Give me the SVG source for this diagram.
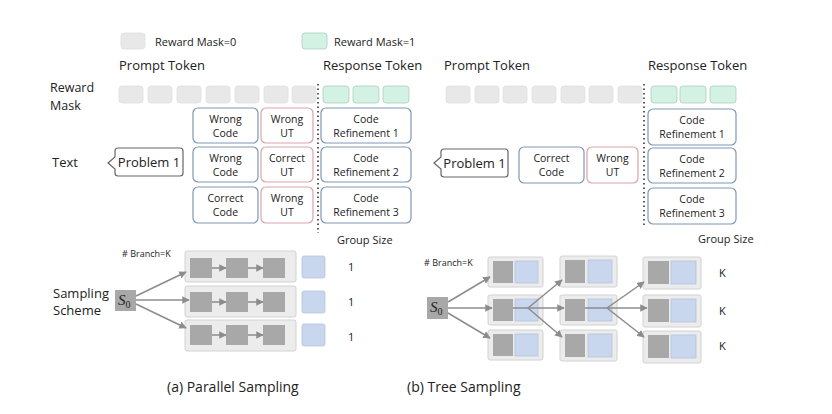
<svg xmlns="http://www.w3.org/2000/svg" width="832" height="414" viewBox="0 0 832 414">
<defs>
<style>
text{font-family:"Open Sans","DejaVu Sans",sans-serif;fill:#222}
.h{font-size:13px}
.s{font-size:10.5px}
.t{font-size:11px}
.c{text-anchor:middle}
.tok0{fill:#e8e8e8;stroke:#e0e0e0;stroke-width:0.8}
.tok1{fill:#d3f2e4;stroke:#a9cfbd;stroke-width:0.8}
.nb{fill:#fff;stroke:#7d98b6;stroke-width:1.2}
.nr{fill:#fff;stroke:#d9a3ab;stroke-width:1.2}
.pb{fill:#fff;stroke:#666;stroke-width:1.2}
.row{fill:#ececec;stroke:#d2d2d2;stroke-width:1}
.dk{fill:#a8a8a8}
.bl{fill:#c9d7ee;stroke:#b6c3da;stroke-width:0.8}
.ar{stroke:#8c8c8c;stroke-width:1.5;fill:none}
.dot{stroke:#333;stroke-width:1.6;stroke-dasharray:1.5 3;fill:none}
.s0{font-family:"Liberation Serif",serif;font-style:italic;font-size:15px}
</style>
<marker id="ah" viewBox="0 0 10 10" refX="9" refY="5" markerWidth="5" markerHeight="5" orient="auto">
<path d="M0,0 L10,5 L0,10 z" fill="#8c8c8c"/>
</marker>
</defs>
<rect width="832" height="414" fill="#fff"/>

<g id="legend">
<rect class="tok0" x="121" y="33" width="24" height="16" rx="3"/>
<text class="t" x="155" y="46">Reward Mask=0</text>
<rect class="tok1" x="302" y="33" width="25" height="16" rx="3"/>
<text class="t" x="334" y="46">Reward Mask=1</text>
</g>

<g id="labels">
<text class="h" x="119" y="70">Prompt Token</text>
<text class="h" x="323" y="70">Response Token</text>
<text class="h" x="444" y="70">Prompt Token</text>
<text class="h" x="648" y="70">Response Token</text>
<text x="50" y="92" style="font-size:12.5px">Reward</text>
<text x="50" y="110" style="font-size:12.5px">Mask</text>
<text class="h" x="52" y="167">Text</text>
<text class="h" x="53" y="298">Sampling</text>
<text class="h" x="53" y="315">Scheme</text>
<text class="t" x="337" y="244">Group Size</text>
<text class="t" x="698" y="243">Group Size</text>
<text x="122" y="257" style="font-size:9px"># Branch=K</text>
<text x="424" y="266" style="font-size:9px"># Branch=K</text>
<text class="h" x="167" y="392" style="font-size:14px">(a) Parallel Sampling</text>
<text class="h" x="407" y="392" style="font-size:14px">(b) Tree Sampling</text>
</g>

<g id="mask-left">
<rect class="tok0" x="119" y="86" width="24" height="17" rx="3"/>
<rect class="tok0" x="148" y="86" width="24" height="17" rx="3"/>
<rect class="tok0" x="177" y="86" width="24" height="17" rx="3"/>
<rect class="tok0" x="206" y="86" width="24" height="17" rx="3"/>
<rect class="tok0" x="235" y="86" width="24" height="17" rx="3"/>
<rect class="tok0" x="264" y="86" width="24" height="17" rx="3"/>
<rect class="tok0" x="292" y="86" width="24" height="17" rx="3"/>
<rect class="tok1" x="323" y="86" width="26" height="17" rx="3"/>
<rect class="tok1" x="353" y="86" width="26" height="17" rx="3"/>
<rect class="tok1" x="383" y="86" width="26" height="17" rx="3"/>
<path class="dot" d="M318,84 V233"/>
</g>

<g id="mask-right">
<rect class="tok0" x="446" y="86" width="24" height="17" rx="3"/>
<rect class="tok0" x="475" y="86" width="24" height="17" rx="3"/>
<rect class="tok0" x="503" y="86" width="24" height="17" rx="3"/>
<rect class="tok0" x="532" y="86" width="24" height="17" rx="3"/>
<rect class="tok0" x="561" y="86" width="24" height="17" rx="3"/>
<rect class="tok0" x="589" y="86" width="24" height="17" rx="3"/>
<rect class="tok0" x="618" y="86" width="24" height="17" rx="3"/>
<rect class="tok1" x="651" y="86" width="26" height="17" rx="3"/>
<rect class="tok1" x="680" y="86" width="26" height="17" rx="3"/>
<rect class="tok1" x="710" y="86" width="26" height="17" rx="3"/>
<path class="dot" d="M644,84 V226"/>
</g>

<g id="problem-a">
<path class="pb" d="M118,148 H180 Q183,148 183,151 V173 Q183,176 180,176 H118 Q115,176 115,173 V169 L108,163 L115,157 V151 Q115,148 118,148 Z"/>
<text class="h c" x="149" y="167">Problem 1</text>
</g>

<g id="nodes-a">
<rect class="nb" x="193" y="108" width="65" height="35" rx="5"/>
<text class="s c" x="225.5" y="123">Wrong</text><text class="s c" x="225.5" y="137">Code</text>
<rect class="nr" x="261" y="108" width="52" height="35" rx="5"/>
<text class="s c" x="287" y="123">Wrong</text><text class="s c" x="287" y="137">UT</text>
<rect class="nb" x="321" y="108" width="90" height="35" rx="5"/>
<text class="s c" x="366" y="123">Code</text><text class="s c" x="366" y="137">Refinement 1</text>

<rect class="nb" x="193" y="147" width="65" height="35" rx="5"/>
<text class="s c" x="225.5" y="162">Wrong</text><text class="s c" x="225.5" y="176">Code</text>
<rect class="nr" x="261" y="147" width="52" height="35" rx="5"/>
<text class="s c" x="287" y="162">Correct</text><text class="s c" x="287" y="176">UT</text>
<rect class="nb" x="321" y="147" width="90" height="35" rx="5"/>
<text class="s c" x="366" y="162">Code</text><text class="s c" x="366" y="176">Refinement 2</text>

<rect class="nb" x="193" y="187" width="65" height="36" rx="5"/>
<text class="s c" x="225.5" y="202">Correct</text><text class="s c" x="225.5" y="216">Code</text>
<rect class="nr" x="261" y="187" width="52" height="36" rx="5"/>
<text class="s c" x="287" y="202">Wrong</text><text class="s c" x="287" y="216">UT</text>
<rect class="nb" x="321" y="187" width="90" height="36" rx="5"/>
<text class="s c" x="366" y="202">Code</text><text class="s c" x="366" y="216">Refinement 3</text>
</g>

<g id="problem-b">
<path class="pb" d="M444,149 H505 Q508,149 508,152 V174 Q508,177 505,177 H444 Q441,177 441,174 V169 L434,163 L441,157 V152 Q441,149 444,149 Z"/>
<text class="h c" x="474.5" y="168">Problem 1</text>
</g>

<g id="nodes-b">
<rect class="nb" x="519" y="147" width="65" height="36" rx="5"/>
<text class="s c" x="551.5" y="162">Correct</text><text class="s c" x="551.5" y="176">Code</text>
<rect class="nr" x="587" y="147" width="51" height="36" rx="5"/>
<text class="s c" x="612.5" y="162">Wrong</text><text class="s c" x="612.5" y="176">UT</text>
<rect class="nb" x="648" y="109" width="88" height="36" rx="5"/>
<text class="s c" x="692" y="124">Code</text><text class="s c" x="692" y="138">Refinement 1</text>
<rect class="nb" x="648" y="148" width="88" height="35" rx="5"/>
<text class="s c" x="692" y="163">Code</text><text class="s c" x="692" y="177">Refinement 2</text>
<rect class="nb" x="648" y="188" width="88" height="36" rx="5"/>
<text class="s c" x="692" y="203">Code</text><text class="s c" x="692" y="217">Refinement 3</text>
</g>

<g id="parallel">
<rect class="dk" x="115" y="290" width="21" height="21"/>
<text class="s0" x="118" y="305">S<tspan style="font-style:normal;font-size:10px" dy="3">0</tspan></text>
<rect class="row" x="185" y="251" width="111" height="31" rx="2"/>
<rect class="row" x="185" y="286" width="111" height="31" rx="2"/>
<rect class="row" x="185" y="320" width="111" height="31" rx="2"/>
<rect class="dk" x="190" y="258" width="22" height="20"/>
<rect class="dk" x="226" y="258" width="22" height="20"/>
<rect class="dk" x="263" y="258" width="22" height="20"/>
<rect class="dk" x="190" y="292" width="22" height="20"/>
<rect class="dk" x="226" y="292" width="22" height="20"/>
<rect class="dk" x="263" y="292" width="22" height="20"/>
<rect class="dk" x="190" y="325" width="22" height="20"/>
<rect class="dk" x="226" y="325" width="22" height="20"/>
<rect class="dk" x="263" y="325" width="22" height="20"/>
<rect class="bl" x="302" y="256" width="23" height="22" rx="2"/>
<rect class="bl" x="302" y="291" width="23" height="22" rx="2"/>
<rect class="bl" x="302" y="324" width="23" height="22" rx="2"/>
<text class="t" x="348" y="271">1</text>
<text class="t" x="348" y="306">1</text>
<text class="t" x="348" y="341">1</text>
</g>

<g id="tree">
<rect class="dk" x="427" y="297" width="21" height="22"/>
<text class="s0" x="430" y="312">S<tspan style="font-style:normal;font-size:10px" dy="3">0</tspan></text>
<rect class="row" x="488" y="257" width="55" height="30" rx="2"/>
<rect class="row" x="488" y="295" width="55" height="30" rx="2"/>
<rect class="row" x="488" y="330" width="55" height="30" rx="2"/>
<rect class="dk" x="493" y="261" width="20" height="22"/><rect class="bl" x="515" y="261" width="23" height="22"/>
<rect class="dk" x="493" y="299" width="20" height="22"/><rect class="bl" x="515" y="299" width="23" height="22"/>
<rect class="dk" x="493" y="334" width="20" height="22"/><rect class="bl" x="515" y="334" width="23" height="22"/>
<rect class="row" x="560" y="256" width="57" height="31" rx="2"/>
<rect class="row" x="560" y="295" width="57" height="30" rx="2"/>
<rect class="row" x="560" y="330" width="57" height="31" rx="2"/>
<rect class="dk" x="565" y="260" width="20" height="23"/><rect class="bl" x="588" y="260" width="24" height="23"/>
<rect class="dk" x="565" y="299" width="20" height="22"/><rect class="bl" x="588" y="299" width="24" height="22"/>
<rect class="dk" x="565" y="334" width="20" height="23"/><rect class="bl" x="588" y="334" width="24" height="23"/>
<rect class="row" x="643" y="257" width="58" height="32" rx="2"/>
<rect class="row" x="643" y="295" width="58" height="32" rx="2"/>
<rect class="row" x="643" y="331" width="58" height="32" rx="2"/>
<rect class="dk" x="648" y="261" width="21" height="23"/><rect class="bl" x="671" y="261" width="25" height="23"/>
<rect class="dk" x="648" y="299" width="21" height="23"/><rect class="bl" x="671" y="299" width="25" height="23"/>
<rect class="dk" x="648" y="335" width="21" height="23"/><rect class="bl" x="671" y="335" width="25" height="23"/>
<text class="t" x="719" y="277">K</text>
<text class="t" x="719" y="315">K</text>
<text class="t" x="719" y="350">K</text>
</g>

<g id="connectors">
<path class="ar" d="M136,296 L186,272" marker-end="url(#ah)"/>
<path class="ar" d="M136,300 L189,300" marker-end="url(#ah)"/>
<path class="ar" d="M136,304 L186,328" marker-end="url(#ah)"/>
<path class="ar" d="M212,268 L226,268" marker-end="url(#ah)"/>
<path class="ar" d="M248,268 L263,268" marker-end="url(#ah)"/>
<path class="ar" d="M212,302 L226,302" marker-end="url(#ah)"/>
<path class="ar" d="M248,302 L263,302" marker-end="url(#ah)"/>
<path class="ar" d="M212,335 L226,335" marker-end="url(#ah)"/>
<path class="ar" d="M248,335 L263,335" marker-end="url(#ah)"/>
<path class="ar" d="M448,302 L490,277" marker-end="url(#ah)"/>
<path class="ar" d="M448,308 L492,308" marker-end="url(#ah)"/>
<path class="ar" d="M448,313 L490,338" marker-end="url(#ah)"/>
<path class="ar" d="M513,308 L528,308"/>
<path class="ar" d="M528,308 L562,280" marker-end="url(#ah)"/>
<path class="ar" d="M528,308 L564,308" marker-end="url(#ah)"/>
<path class="ar" d="M528,308 L562,337" marker-end="url(#ah)"/>
<path class="ar" d="M585,308 L607,308"/>
<path class="ar" d="M607,308 L644,282" marker-end="url(#ah)"/>
<path class="ar" d="M607,308 L647,308" marker-end="url(#ah)"/>
<path class="ar" d="M607,308 L644,337" marker-end="url(#ah)"/>
</g>
</svg>
